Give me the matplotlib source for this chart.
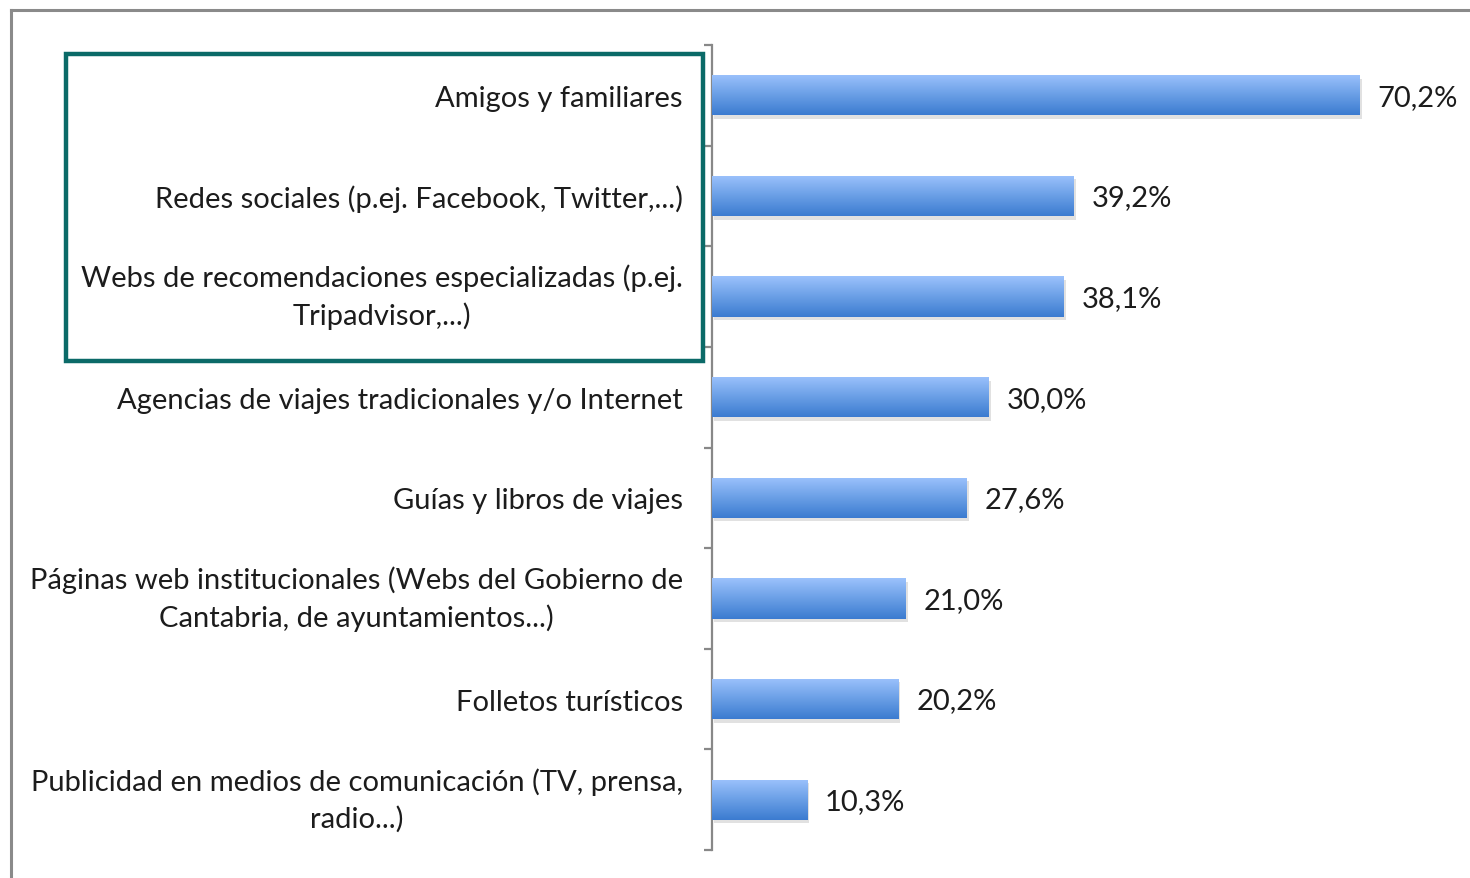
import matplotlib
matplotlib.use("Agg")
import matplotlib.pyplot as plt
import numpy as np
from matplotlib.patches import Rectangle
from matplotlib.lines import Line2D
import matplotlib.patheffects as pe
from matplotlib.colors import LinearSegmentedColormap

categories = [
    "Amigos y familiares",
    "Redes sociales (p.ej. Facebook, Twitter,...)",
    "Webs de recomendaciones especializadas (p.ej.\nTripadvisor,...)",
    "Agencias de viajes tradicionales y/o Internet",
    "Guías y libros de viajes",
    "Páginas web institucionales (Webs del Gobierno de\nCantabria, de ayuntamientos...)",
    "Folletos turísticos",
    "Publicidad en medios de comunicación (TV, prensa,\nradio...)",
]
values = [70.2, 39.2, 38.1, 30.0, 27.6, 21.0, 20.2, 10.3]
value_labels = ["70,2%", "39,2%", "38,1%", "30,0%", "27,6%", "21,0%", "20,2%", "10,3%"]

W, H = 1470, 879
fig = plt.figure(figsize=(W / 100, H / 100), dpi=100)
plt.rcParams['font.family'] = ['Lato', 'DejaVu Sans']

FS = 21
TXT = "#1c1c1c"

ax_left, ax_right = 712 / W, 1450 / W
ax_top, ax_bottom = 1 - 46 / H, 1 - 851 / H
ax = fig.add_axes([ax_left, ax_bottom, ax_right - ax_left, ax_top - ax_bottom])

y = np.arange(len(categories))
cmap = LinearSegmentedColormap.from_list("g", ["#9cc2fc", "#6a9fe6", "#3b7bd0"])
grad = np.linspace(0, 1, 256).reshape(-1, 1)

bars = ax.barh(y, values, height=0.4, color="#6a9fe6", edgecolor="none", zorder=2,
               path_effects=[pe.SimplePatchShadow(offset=(1.5, -2.5), shadow_rgbFace="#8a8a8a", alpha=0.25),
                             pe.Normal()])
for b in bars:
    x0, y0 = b.get_x(), b.get_y()
    w, h = b.get_width(), b.get_height()
    im = ax.imshow(grad, cmap=cmap, extent=[x0, x0 + w, y0 + h, y0], aspect="auto",
                   interpolation="bicubic", zorder=3)
    im.set_clip_path(b)

for v, lab, yy in zip(values, value_labels, y):
    ax.annotate(lab, xy=(v, yy), xytext=(13, -1), textcoords="offset points",
                ha="left", va="center", fontsize=FS, color=TXT)

ax.set_xlim(0, 80)
ax.set_ylim(len(categories) - 0.5, -0.5)
ax.set_yticks(y)
ax.set_yticklabels(categories, fontsize=FS, color=TXT, multialignment="center", linespacing=1.45)
for t in ax.get_yticklabels():
    if "\n" in t.get_text():
        t.set_va("center")
ax.tick_params(axis="y", which="major", length=0, pad=21)
ax.set_yticks(np.arange(-0.5, len(categories)), minor=True)
ax.tick_params(axis="y", which="minor", length=6, width=1.6, color="#888888", direction="out")
ax.set_xticks([])
for s in ["top", "right", "bottom"]:
    ax.spines[s].set_visible(False)
ax.spines["left"].set_color("#888888")
ax.spines["left"].set_linewidth(1.6)
ax.patch.set_alpha(0)

# outer frame (partially visible)
fig.add_artist(Line2D([11 / W, 1.0], [1 - 11 / H, 1 - 11 / H], transform=fig.transFigure,
                      color="#8a8a8a", lw=2.2))
fig.add_artist(Line2D([11 / W, 11 / W], [0, 1 - 11 / H], transform=fig.transFigure,
                      color="#8a8a8a", lw=2.2))

# highlight box
fig.add_artist(Rectangle((66 / W, 1 - 362 / H), (703 - 66) / W, (362 - 55) / H,
                         transform=fig.transFigure, fill=False, edgecolor="#0b6a68", lw=3.2, zorder=5))

fig.savefig("out.png", dpi=100)
